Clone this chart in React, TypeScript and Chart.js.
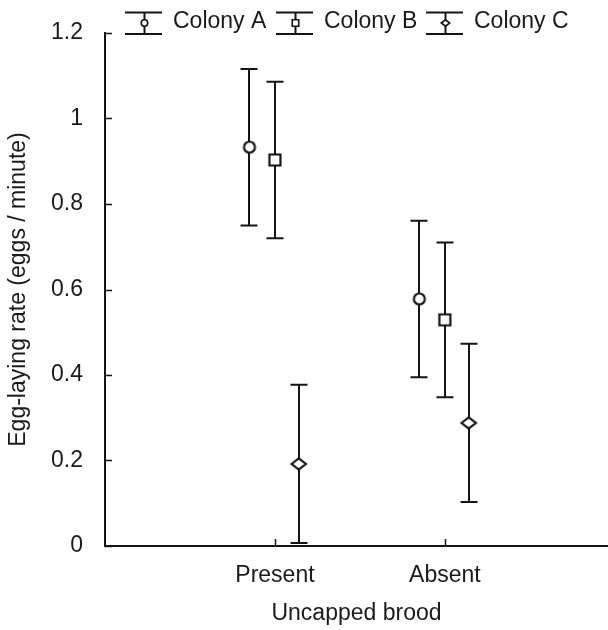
import React, { useEffect, useRef } from 'react';
import { Chart, registerables } from 'chart.js';

Chart.register(...registerables);

// ---- data ----
const categories = ['Present', 'Absent'];
const seriesNames = ['Colony A', 'Colony B', 'Colony C'];
const colonyAMeans = [0.933, 0.578];
const colonyAErrors = [0.183, 0.183];
const colonyBMeans = [0.903, 0.529];
const colonyBErrors = [0.183, 0.181];
const colonyCMeans = [0.192, 0.288];
const colonyCErrors = [0.185, 0.185];
const yTickValues = [0, 0.2, 0.4, 0.6, 0.8, 1, 1.2];
const yTickLabels = ['0', '0.2', '0.4', '0.6', '0.8', '1', '1.2'];
const xTitle = 'Uncapped brood';
const yTitle = 'Egg-laying rate (eggs / minute)';

// ---- styling / layout ----
const INK = '#141414';
const FONT = '"Liberation Sans", Arial, Helvetica, sans-serif';
const markerKinds = ['circle', 'square', 'diamond'];
const seriesOffsets = [-0.15, 0, 0.14];

function drawMarker(ctx: CanvasRenderingContext2D, kind: string, x: number, y: number, s: number, lw: number) {
  ctx.save();
  ctx.beginPath();
  if (kind === 'circle') {
    ctx.arc(x, y, 5 * s, 0, Math.PI * 2);
  } else if (kind === 'square') {
    ctx.rect(x - 5 * s, y - 5 * s, 10 * s, 10 * s);
  } else {
    ctx.moveTo(x - 6.5 * s, y);
    ctx.lineTo(x, y - 5 * s);
    ctx.lineTo(x + 6.5 * s, y);
    ctx.lineTo(x, y + 5 * s);
    ctx.closePath();
  }
  ctx.fillStyle = '#ffffff';
  ctx.fill();
  ctx.lineWidth = lw;
  ctx.strokeStyle = INK;
  ctx.lineJoin = 'miter';
  ctx.stroke();
  ctx.restore();
}

function makeMarkerImage(kind: string): HTMLCanvasElement {
  const c = document.createElement('canvas');
  c.width = 20;
  c.height = 20;
  const ctx = c.getContext('2d')!;
  drawMarker(ctx, kind, 10, 10, 1.1, 2.2);
  return c;
}

// stretch the plot area to the right edge of the canvas, as in the original
const fullWidthPlugin = {
  id: 'fullWidth',
  afterLayout(chart: any) {
    const xs = chart.scales.x;
    chart.chartArea.right = chart.width;
    chart.chartArea.width = chart.width - chart.chartArea.left;
    xs.right = chart.width;
    xs.width = xs.right - xs.left;
    xs.configure();
  },
};

const errorBarPlugin = {
  id: 'errorBars',
  beforeDatasetsDraw(chart: any) {
    const ctx = chart.ctx as CanvasRenderingContext2D;
    const yScale = chart.scales.y;
    ctx.save();
    ctx.strokeStyle = INK;
    ctx.lineWidth = 2;
    chart.data.datasets.forEach((ds: any, i: number) => {
      const meta = chart.getDatasetMeta(i);
      meta.data.forEach((pt: any, j: number) => {
        const d = ds.data[j];
        const x = Math.round(pt.x);
        const yTop = yScale.getPixelForValue(d.y + d.err);
        const yBot = yScale.getPixelForValue(d.y - d.err);
        ctx.beginPath();
        ctx.moveTo(x, yTop);
        ctx.lineTo(x, yBot);
        ctx.moveTo(x - 8.5, yTop);
        ctx.lineTo(x + 8.5, yTop);
        ctx.moveTo(x - 8.5, yBot);
        ctx.lineTo(x + 8.5, yBot);
        ctx.stroke();
      });
    });
    ctx.restore();
  },
};

const axisTicksPlugin = {
  id: 'inwardTicks',
  afterDraw(chart: any) {
    const ctx = chart.ctx as CanvasRenderingContext2D;
    const { left, bottom } = chart.chartArea;
    const xs = chart.scales.x;
    const ys = chart.scales.y;
    ctx.save();
    ctx.strokeStyle = INK;
    ctx.lineWidth = 1.5;
    ctx.beginPath();
    ys.ticks.forEach((t: any) => {
      const py = Math.round(ys.getPixelForValue(t.value)) + 0.5;
      ctx.moveTo(left, py);
      ctx.lineTo(left + 7, py);
    });
    xs.ticks.forEach((t: any) => {
      const px = Math.round(xs.getPixelForValue(t.value)) + 0.5;
      ctx.moveTo(px, bottom);
      ctx.lineTo(px, bottom - 7);
    });
    ctx.stroke();
    ctx.restore();
  },
};

const legendPlugin = {
  id: 'errorLegend',
  afterDraw(chart: any) {
    const ctx = chart.ctx as CanvasRenderingContext2D;
    const startX = 125;
    const itemW = 150.5;
    const symW = 37;
    const capTop = 12.5;
    const capBot = 34;
    const cy = 23;
    ctx.save();
    seriesNames.forEach((name, i) => {
      const x0 = Math.round(startX + i * itemW);
      const cx = x0 + symW / 2 + 1;
      ctx.strokeStyle = INK;
      ctx.lineWidth = 2;
      ctx.beginPath();
      ctx.moveTo(x0, capTop);
      ctx.lineTo(x0 + symW, capTop);
      ctx.moveTo(x0, capBot);
      ctx.lineTo(x0 + symW, capBot);
      ctx.moveTo(cx, capTop);
      ctx.lineTo(cx, capBot);
      ctx.stroke();
      drawMarker(ctx, markerKinds[i], cx, cy, 0.65, 1.6);
      ctx.fillStyle = '#1a1a1a';
      ctx.font = `23px ${FONT}`;
      ctx.textAlign = 'left';
      ctx.textBaseline = 'middle';
      ctx.fillText(name, x0 + symW + 11, cy - 1);
    });
    ctx.restore();
  },
};

function zeroPadding(scale: any) {
  scale.paddingTop = 0;
  scale.paddingBottom = 0;
  scale.paddingLeft = 0;
  scale.paddingRight = 0;
}

export default function App() {
  const canvasRef = useRef<HTMLCanvasElement | null>(null);

  useEffect(() => {
    if (!canvasRef.current) return;
    const means = [colonyAMeans, colonyBMeans, colonyCMeans];
    const errs = [colonyAErrors, colonyBErrors, colonyCErrors];
    const datasets = seriesNames.map((name, i) => ({
      label: name,
      data: categories.map((_, j) => ({ x: j + 1 + seriesOffsets[i], y: means[i][j], err: errs[i][j] })),
      pointStyle: makeMarkerImage(markerKinds[i]),
      pointRadius: 6,
      showLine: false,
      clip: false as any,
    }));

    const chart = new Chart(canvasRef.current, {
      type: 'scatter',
      data: { datasets },
      options: {
        animation: false,
        responsive: false,
        devicePixelRatio: 1,
        layout: { padding: { top: 33, right: 0, left: 0, bottom: 0 } },
        plugins: {
          legend: { display: false },
          tooltip: { enabled: false },
        },
        scales: {
          x: {
            type: 'linear',
            min: 0,
            max: 2.96,
            afterBuildTicks: (scale: any) => {
              scale.ticks = categories.map((_, j) => ({ value: j + 1 }));
            },
            afterFit: (scale: any) => {
              scale.height = 84;
              zeroPadding(scale);
            },
            grid: { display: false, drawTicks: false },
            border: { display: true, color: INK, width: 2 },
            ticks: {
              padding: 16,
              color: '#1a1a1a',
              font: { family: FONT, size: 23 },
              maxRotation: 0,
              autoSkip: false,
              callback: (v: any) => categories[Math.round(Number(v)) - 1] ?? '',
            },
            title: {
              display: true,
              text: xTitle,
              color: '#1a1a1a',
              font: { family: FONT, size: 23 },
              padding: { top: 0, bottom: 3 },
            },
          },
          y: {
            type: 'linear',
            min: 0,
            max: 1.2,
            afterBuildTicks: (scale: any) => {
              scale.ticks = yTickValues.map((v) => ({ value: v }));
            },
            afterFit: (scale: any) => {
              scale.width = 105;
              zeroPadding(scale);
            },
            grid: { display: false, drawTicks: false },
            border: { display: true, color: INK, width: 2 },
            ticks: {
              padding: 22,
              color: '#1a1a1a',
              font: { family: FONT, size: 23 },
              autoSkip: false,
              callback: (v: any) => {
                const idx = yTickValues.findIndex((t) => Math.abs(t - Number(v)) < 1e-6);
                return idx >= 0 ? yTickLabels[idx] : '';
              },
            },
            title: {
              display: true,
              text: yTitle,
              color: '#1a1a1a',
              font: { family: FONT, size: 23 },
              padding: { top: 5, bottom: 0 },
            },
          },
        },
      },
      plugins: [fullWidthPlugin, errorBarPlugin, axisTicksPlugin, legendPlugin],
    });
    return () => chart.destroy();
  }, []);

  return (
    <div style={{ position: 'absolute', left: 0, top: 0, width: 608, height: 630, background: '#fff' }}>
      <canvas ref={canvasRef} width={608} height={630} style={{ display: 'block' }} />
    </div>
  );
}
